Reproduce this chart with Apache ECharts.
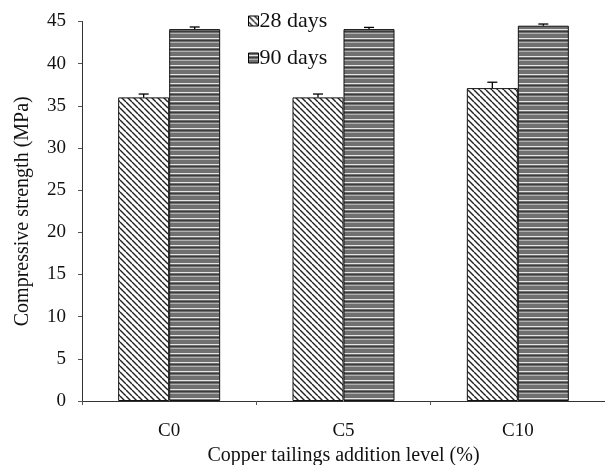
<!DOCTYPE html>
<html><head><meta charset="utf-8">
<script src="https://cdn.jsdelivr.net/npm/echarts@6/dist/echarts.min.js"></script>
<style>html,body{margin:0;padding:0;background:#fff}#c{width:605px;height:465px}</style>
</head><body><div id="c"></div>
<script>
const categories = ['C0', 'C5', 'C10'];
const days28 = [36.0, 36.0, 37.1];
const days28Err = [0.4, 0.4, 0.7];
const days90 = [44.1, 44.1, 44.5];
const days90Err = [0.25, 0.2, 0.2];
const seriesNames = ['28 days', '90 days'];

function hatchPattern() {
  const c = document.createElement('canvas');
  c.width = 6; c.height = 6;
  const g = c.getContext('2d');
  g.fillStyle = '#fff'; g.fillRect(0, 0, 6, 6);
  g.strokeStyle = '#222'; g.lineWidth = 1.4;
  for (let k = -6; k <= 12; k += 6) {
    g.beginPath(); g.moveTo(k, 0); g.lineTo(k + 6, 6); g.stroke();
  }
  return c;
}
function stripePattern() {
  const c = document.createElement('canvas');
  c.width = 4; c.height = 9;
  const g = c.getContext('2d');
  g.fillStyle = '#707070'; g.fillRect(0, 0, 4, 9);
  g.fillStyle = '#e6e6e6'; g.fillRect(0, 2, 4, 1);
  g.fillStyle = '#b0b0b0'; g.fillRect(0, 6, 4, 1);
  g.fillStyle = '#3c3c3c'; g.fillRect(0, 4, 4, 1);
  return c;
}
const fill28 = { image: hatchPattern(), repeat: 'repeat' };
const fill90 = { image: stripePattern(), repeat: 'repeat' };

const BAR_W = 51;
function errSeries(vals, errs, side) {
  return {
    type: 'custom',
    silent: true,
    z: 10,
    data: vals.map((v, i) => [i, v, v + errs[i]]),
    renderItem: function (params, api) {
      const i = api.value(0);
      const lo = api.coord([i, api.value(1)]);
      const hi = api.coord([i, api.value(2)]);
      const x = lo[0] + side * BAR_W / 2;
      const cap = 5;
      const st = { stroke: '#000', lineWidth: 1.3 };
      return { type: 'group', children: [
        { type: 'line', shape: { x1: x, y1: lo[1], x2: x, y2: hi[1] }, style: st },
        { type: 'line', shape: { x1: x - cap, y1: hi[1], x2: x + cap, y2: hi[1] }, style: st }
      ]};
    }
  };
}

const font = 'Liberation Serif';
const chart = echarts.init(document.getElementById('c'), null, { renderer: 'canvas' });
chart.setOption({
  animation: false,
  backgroundColor: '#fff',
  textStyle: { fontFamily: font, color: '#111' },
  grid: { left: 82, right: 0, top: 21.5, bottom: 64, containLabel: false, outerBoundsMode: 'none' },
  legend: {
    orient: 'vertical',
    left: 243, top: 4,
    itemWidth: 10, itemHeight: 10, itemGap: 13,
    icon: 'rect',
    data: seriesNames,
    textStyle: { fontFamily: font, fontSize: 22, lineHeight: 24, color: '#111', padding: [0, 0, 0, -4] },
    itemStyle: { borderColor: '#000', borderWidth: 1 }
  },
  xAxis: {
    type: 'category',
    data: categories,
    axisLine: { lineStyle: { color: '#333', width: 1 } },
    axisTick: { show: true, length: 4, lineStyle: { color: '#555' } },
    axisLabel: { fontFamily: font, fontSize: 19, color: '#111', margin: 21 },
    name: 'Copper tailings addition level (%)',
    nameLocation: 'middle',
    nameGap: 40,
    nameTextStyle: { fontFamily: font, fontSize: 20, color: '#111' }
  },
  yAxis: {
    type: 'value',
    min: 0, max: 45, interval: 5,
    splitLine: { show: false },
    axisLine: { show: true, lineStyle: { color: '#333', width: 1 } },
    axisTick: { show: true, length: 4, lineStyle: { color: '#555' } },
    axisLabel: { fontFamily: font, fontSize: 19, color: '#111', margin: 16 },
    name: 'Compressive strength (MPa)',
    nameLocation: 'middle',
    nameGap: 49,
    nameTextStyle: { fontFamily: font, fontSize: 20, color: '#111' }
  },
  series: [
    { name: seriesNames[0], type: 'bar', data: days28, barWidth: BAR_W, barGap: '0%',
      itemStyle: { color: fill28, borderColor: '#111', borderWidth: 1 } },
    { name: seriesNames[1], type: 'bar', data: days90, barWidth: BAR_W, barGap: '0%',
      itemStyle: { color: fill90, borderColor: '#111', borderWidth: 1 } },
    errSeries(days28, days28Err, -1),
    errSeries(days90, days90Err, 1)
  ]
});
</script></body></html>
